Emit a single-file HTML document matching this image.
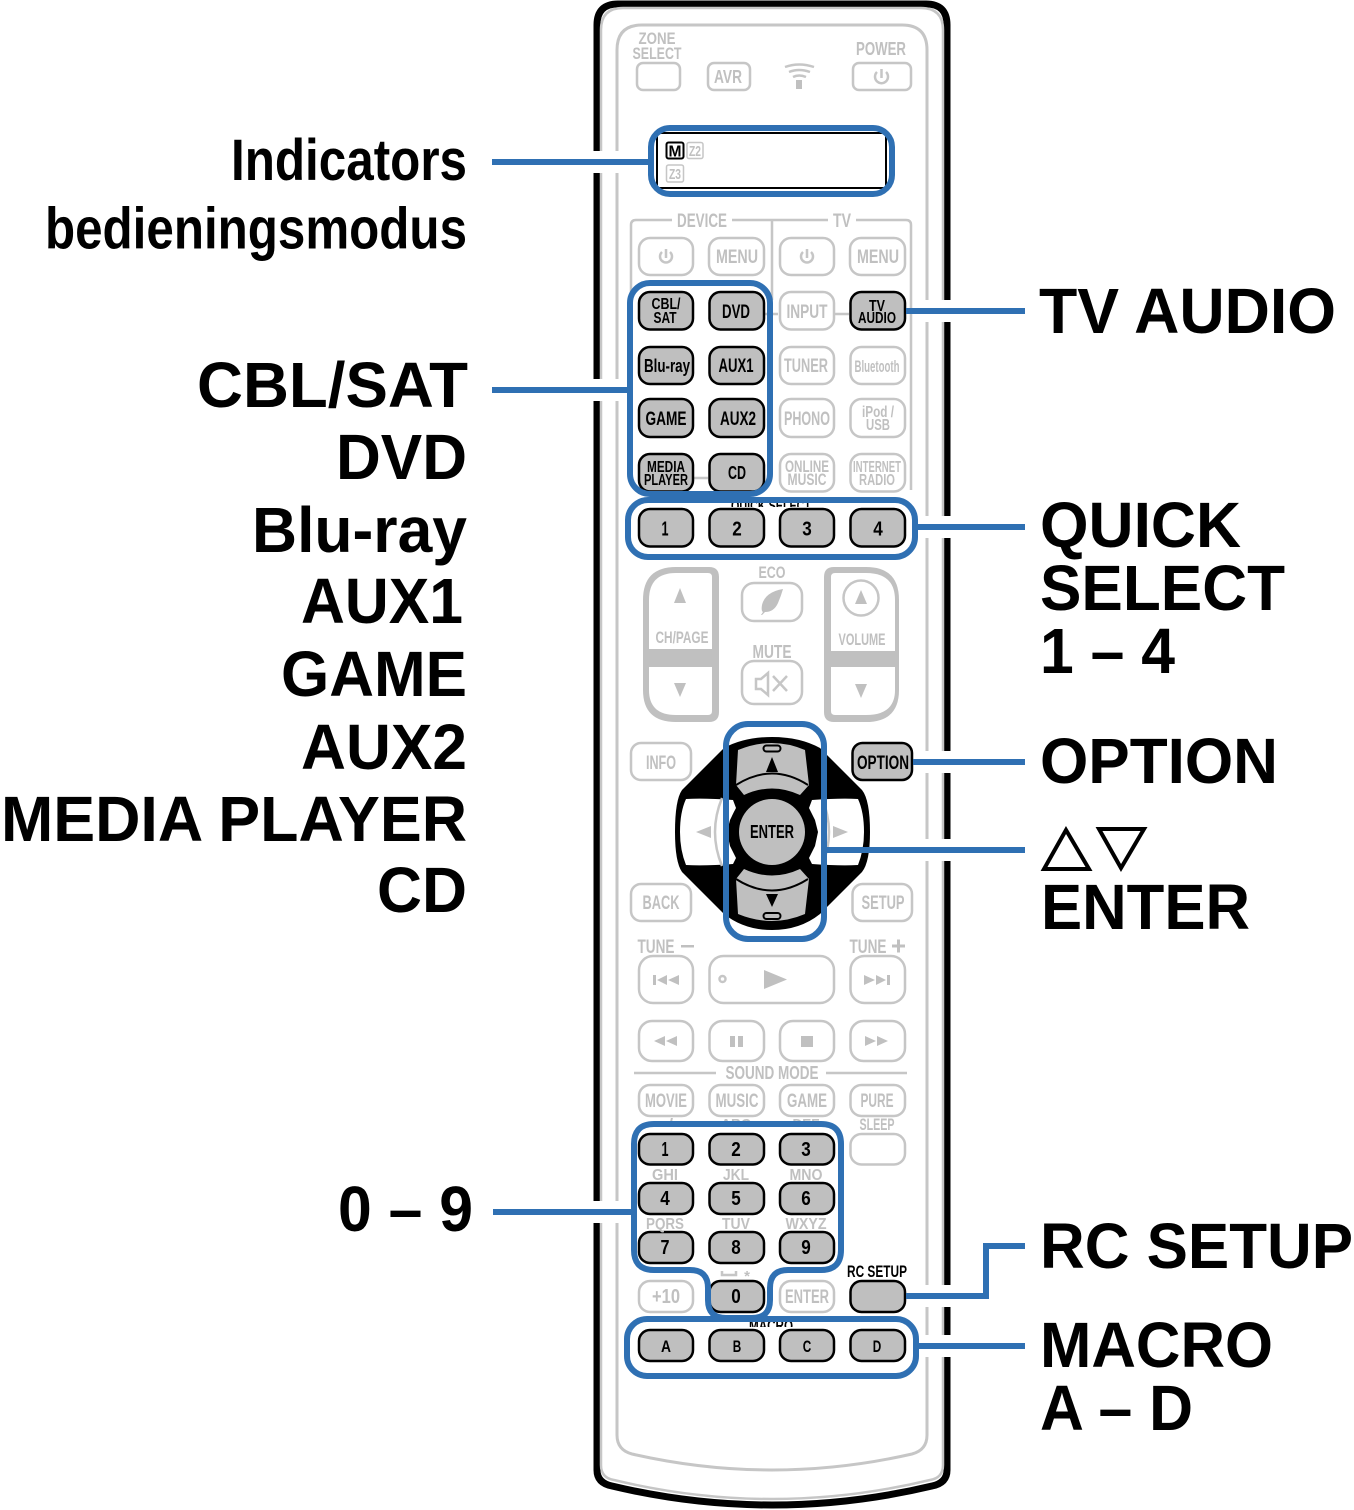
<!DOCTYPE html>
<html><head><meta charset="utf-8"><style>
html,body{margin:0;padding:0;background:#fff}
svg{display:block}
text{font-family:"Liberation Sans",sans-serif;font-weight:bold;text-anchor:middle}
.L{font-size:64px;fill:#000;text-anchor:start}
.M{font-size:58px;fill:#000;text-anchor:start}
.g{fill:#c0c0c0;font-size:19px}
.k{fill:#000;font-size:19px}
.w{fill:#fff;stroke:#c6c6c6;stroke-width:2.5}
.a{fill:#bfbfbf;stroke:#000;stroke-width:2.5}
.gl{fill:none;stroke:#c6c6c6;stroke-width:2.5}
.gf{fill:#c0c0c0}
.bl{fill:none;stroke:#2f70b3;stroke-width:6}
.ca{fill:none;stroke:#fff;stroke-width:22}
</style></head><body>
<svg xmlns="http://www.w3.org/2000/svg" width="1354" height="1510" viewBox="0 0 1354 1510">
<rect width="1354" height="1510" fill="#fff"/>
<!-- body -->
<path d="M597 25Q597 4 618 4H926Q947 4 947 25V1470Q947 1483 932 1486Q772 1524 612 1486Q597 1483 597 1470Z" fill="#fff" stroke="#000" stroke-width="7"/>
<path d="M601 30Q601 8 623 8H921Q943 8 943 30V1465Q943 1478 930 1480Q772 1518 614 1480Q601 1478 601 1465Z" class="gl"/>
<path d="M617 50Q617 25 642 25H902Q927 25 927 50V1435Q927 1450 912 1454Q772 1486 632 1454Q617 1450 617 1435Z" fill="none" stroke="#c6c6c6" stroke-width="3"/>
<!-- casing -->
<path class="ca" d="M590 162H624M590 390H624M590 1212H624M920 311H952M920 527H952M920 762H952M920 850H952M920 1296H952M920 1346H952"/>
<!-- top -->
<text class="g" x="657" y="44" textLength="37" lengthAdjust="spacingAndGlyphs" style="font-size:17px">ZONE</text>
<text class="g" x="657" y="59" textLength="49" lengthAdjust="spacingAndGlyphs" style="font-size:17px">SELECT</text>
<rect class="w" x="637" y="63" width="43" height="27" rx="6"/>
<rect class="w" x="708" y="63" width="42" height="27" rx="6"/>
<text class="g" x="728" y="83" textLength="28" lengthAdjust="spacingAndGlyphs" style="font-size:18px">AVR</text>
<path class="gl" d="M785 67Q799 62 814 67M789 72Q799 68 810 72M793 77Q799 74 806 77"/>
<rect class="gf" x="796" y="80" width="6" height="9"/>
<text class="g" x="881" y="55" textLength="50" lengthAdjust="spacingAndGlyphs" style="font-size:18px">POWER</text>
<rect class="w" x="853" y="63" width="58" height="27" rx="6"/>
<path class="gl" d="M877 72A6.500 6.500 0 1 0 886 72M881.500 69V78"/>
<!-- display -->
<rect x="657" y="133" width="229" height="55" fill="#fff" stroke="#000" stroke-width="2"/>
<rect x="666.500" y="142.500" width="17" height="16" rx="2" fill="#fff" stroke="#000" stroke-width="2"/>
<text class="k" x="675" y="156.500" textLength="13" lengthAdjust="spacingAndGlyphs" style="font-size:16px">M</text>
<rect x="687" y="142.500" width="16" height="16" rx="2" fill="#fff" stroke="#c6c6c6" stroke-width="1.500"/>
<text class="g" x="695" y="156" textLength="12" lengthAdjust="spacingAndGlyphs" style="font-size:15px">Z2</text>
<rect x="666.500" y="165" width="17" height="17" rx="2" fill="#fff" stroke="#c6c6c6" stroke-width="1.500"/>
<text class="g" x="675" y="179" textLength="12" lengthAdjust="spacingAndGlyphs" style="font-size:15px">Z3</text>
<!-- device frame -->
<path class="gl" d="M672 220H636Q631 220 631 225V300M732 220H772V300M772 220H828M856 220H906Q911 220 911 225V490M764 314H778M834 314H849M694 478H708"/>
<text class="g" x="702" y="227" textLength="50" lengthAdjust="spacingAndGlyphs">DEVICE</text>
<text class="g" x="842" y="227" textLength="18" lengthAdjust="spacingAndGlyphs">TV</text>
<rect class="w" x="639" y="238" width="54" height="37" rx="11"/>
<rect class="w" x="709" y="238" width="55" height="37" rx="11"/>
<rect class="w" x="780" y="238" width="54" height="37" rx="11"/>
<rect class="w" x="850" y="238" width="55" height="37" rx="11"/>
<path class="gl" d="M662 252A6 6 0 1 0 670 252M666 249V258"/>
<path class="gl" d="M803 252A6 6 0 1 0 811 252M807 249V258"/>
<text class="g" x="737" y="263" textLength="42" lengthAdjust="spacingAndGlyphs">MENU</text>
<text class="g" x="878" y="263" textLength="42" lengthAdjust="spacingAndGlyphs">MENU</text>
<!-- source buttons -->
<rect class="a" x="639" y="292" width="54" height="37.500" rx="11"/>
<rect class="a" x="709.500" y="292" width="54.500" height="37.500" rx="11"/>
<rect class="w" x="780" y="292" width="54" height="37.500" rx="11"/>
<rect class="a" x="850.500" y="292" width="54.500" height="37.500" rx="11"/>
<rect class="a" x="639" y="347" width="54" height="37" rx="11"/>
<rect class="a" x="709.500" y="347" width="54.500" height="37" rx="11"/>
<rect class="w" x="780" y="347" width="54" height="37" rx="11"/>
<rect class="w" x="850.500" y="347" width="54.500" height="37" rx="11"/>
<rect class="a" x="639" y="399" width="54" height="38" rx="11"/>
<rect class="a" x="709.500" y="399" width="54.500" height="38" rx="11"/>
<rect class="w" x="780" y="399" width="54" height="38" rx="11"/>
<rect class="w" x="850.500" y="399" width="54.500" height="38" rx="11"/>
<rect class="a" x="639" y="454" width="54" height="37.500" rx="11"/>
<rect class="a" x="709.500" y="454" width="54.500" height="37.500" rx="11"/>
<rect class="w" x="780" y="454" width="54" height="37.500" rx="11"/>
<rect class="w" x="850.500" y="454" width="54.500" height="37.500" rx="11"/>
<text class="k" x="666" y="309" textLength="29" lengthAdjust="spacingAndGlyphs" style="font-size:16px">CBL/</text>
<text class="k" x="665" y="323" textLength="23" lengthAdjust="spacingAndGlyphs" style="font-size:16px">SAT</text>
<text class="k" x="736" y="318" textLength="28" lengthAdjust="spacingAndGlyphs">DVD</text>
<text class="g" x="807" y="318" textLength="41" lengthAdjust="spacingAndGlyphs">INPUT</text>
<text class="k" x="877" y="311" textLength="16" lengthAdjust="spacingAndGlyphs" style="font-size:16px">TV</text>
<text class="k" x="877" y="323" textLength="38" lengthAdjust="spacingAndGlyphs" style="font-size:16px">AUDIO</text>
<text class="k" x="667" y="372" textLength="46" lengthAdjust="spacingAndGlyphs" style="font-size:18px">Blu-ray</text>
<text class="k" x="736" y="372" textLength="35" lengthAdjust="spacingAndGlyphs">AUX1</text>
<text class="g" x="806" y="372" textLength="44" lengthAdjust="spacingAndGlyphs">TUNER</text>
<text class="g" x="877" y="372" textLength="45" lengthAdjust="spacingAndGlyphs" style="font-size:17px">Bluetooth</text>
<text class="k" x="666" y="425" textLength="41" lengthAdjust="spacingAndGlyphs">GAME</text>
<text class="k" x="738" y="425" textLength="36" lengthAdjust="spacingAndGlyphs">AUX2</text>
<text class="g" x="807" y="425" textLength="46" lengthAdjust="spacingAndGlyphs">PHONO</text>
<text class="g" x="878" y="417" textLength="32" lengthAdjust="spacingAndGlyphs" style="font-size:16px">iPod /</text>
<text class="g" x="878" y="430" textLength="24" lengthAdjust="spacingAndGlyphs" style="font-size:16px">USB</text>
<text class="k" x="666" y="472" textLength="38" lengthAdjust="spacingAndGlyphs" style="font-size:16px">MEDIA</text>
<text class="k" x="666" y="485" textLength="44" lengthAdjust="spacingAndGlyphs" style="font-size:16px">PLAYER</text>
<text class="k" x="737" y="479" textLength="18" lengthAdjust="spacingAndGlyphs" style="font-size:18px">CD</text>
<text class="g" x="807" y="472" textLength="44" lengthAdjust="spacingAndGlyphs" style="font-size:17px">ONLINE</text>
<text class="g" x="807" y="485" textLength="39" lengthAdjust="spacingAndGlyphs" style="font-size:17px">MUSIC</text>
<text class="g" x="877" y="472" textLength="48" lengthAdjust="spacingAndGlyphs" style="font-size:16px">INTERNET</text>
<text class="g" x="877" y="485" textLength="36" lengthAdjust="spacingAndGlyphs" style="font-size:16px">RADIO</text>
<!-- quick select -->
<text class="k" x="771" y="511" textLength="80" lengthAdjust="spacingAndGlyphs" style="font-size:16px">QUICK SELECT</text>
<rect x="631" y="507" width="280" height="47" fill="#fff"/>
<rect class="a" x="639" y="509" width="54" height="37.500" rx="11"/>
<rect class="a" x="709.500" y="509" width="54.500" height="37.500" rx="11"/>
<rect class="a" x="780" y="509" width="54" height="37.500" rx="11"/>
<rect class="a" x="850.500" y="509" width="54.500" height="37.500" rx="11"/>
<text class="k" x="665" y="535.500" textLength="7" lengthAdjust="spacingAndGlyphs" style="font-size:20px">1</text>
<text class="k" x="737" y="535.500" textLength="9.500" lengthAdjust="spacingAndGlyphs" style="font-size:20px">2</text>
<text class="k" x="807" y="535.500" textLength="9.500" lengthAdjust="spacingAndGlyphs" style="font-size:20px">3</text>
<text class="k" x="878" y="535.500" textLength="9.500" lengthAdjust="spacingAndGlyphs" style="font-size:20px">4</text>
<!-- CH / VOL -->
<path class="gf" fill-rule="evenodd" d="M643 600Q643 567 676 567H709Q719 567 719 577V712Q719 722 709 722H676Q643 722 643 690ZM649 649H712V577Q712 573 708 573H676Q649 573 649 600ZM649 667V690Q649 715 676 715H708Q712 715 712 711V667Z"/>
<path class="gf" fill-rule="evenodd" d="M899 600Q899 567 866 567H834Q824 567 824 577V712Q824 722 834 722H866Q899 722 899 690ZM895 651H831V577Q831 573 835 573H866Q895 573 895 600ZM895 667V690Q895 715 866 715H835Q831 715 831 711V667Z"/>
<polygon class="gf" points="680,588 686,603 674,603"/>
<polygon class="gf" points="680,697 686,683 674,683"/>
<text class="g" x="682" y="643" textLength="53" lengthAdjust="spacingAndGlyphs" style="font-size:17px">CH/PAGE</text>
<circle class="gl" cx="861" cy="598" r="17.500"/>
<polygon class="gf" points="861,590 867,604 855,604"/>
<polygon class="gf" points="861,698 867,684 855,684"/>
<text class="g" x="862" y="645" textLength="47" lengthAdjust="spacingAndGlyphs" style="font-size:17px">VOLUME</text>
<text class="g" x="772" y="578" textLength="27" lengthAdjust="spacingAndGlyphs" style="font-size:17px">ECO</text>
<rect class="w" x="742" y="583" width="60" height="38" rx="12"/>
<path class="gf" d="M783 589Q765 592 762 605Q761 611 763 612L761 615 762 615 765 612Q774 612 778 603Q781 596 783 589Z"/>
<text class="g" x="772" y="658" textLength="39" lengthAdjust="spacingAndGlyphs" style="font-size:18px">MUTE</text>
<rect class="w" x="742" y="661" width="60" height="43" rx="12"/>
<path class="gl" d="M756 679V689H761L768 695V673L761 679ZM773 676L787 691M787 676L773 691"/>
<!-- side buttons -->
<rect class="w" x="631" y="743" width="60" height="37" rx="10"/>
<text class="g" x="661" y="769" textLength="30" lengthAdjust="spacingAndGlyphs">INFO</text>
<rect class="a" x="852.500" y="743" width="59.500" height="37" rx="10"/>
<text class="k" x="883" y="769" textLength="52" lengthAdjust="spacingAndGlyphs">OPTION</text>
<rect class="w" x="631" y="884" width="60" height="37" rx="10"/>
<text class="g" x="661" y="909" textLength="37" lengthAdjust="spacingAndGlyphs">BACK</text>
<rect class="w" x="852.500" y="884" width="59.500" height="37" rx="10"/>
<text class="g" x="883" y="909" textLength="43" lengthAdjust="spacingAndGlyphs">SETUP</text>
<!-- dpad -->
<path fill="#000" d="M772 737Q800 737 820 748L862 790Q870 800 870 832Q870 862 862 872L820 914Q800 930 772 930Q744 930 724 914L682 872Q675 862 675 832Q675 800 682 790L724 748Q744 737 772 737Z"/>
<path fill="#fff" d="M686 799Q705 798 733 800L736 808 730 820 727 832 730 846 736 858 733 864Q705 866 686 865Q680 850 680 832Q680 812 686 799Z"/>
<path fill="#fff" d="M858 799Q840 798 812 800L809 808 815 820 818 832 815 846 809 858 812 864Q840 866 858 865Q864 850 864 832Q864 812 858 799Z"/>
<path class="gl" d="M722 798Q708 832 722 866M822 798Q836 832 822 866" stroke-width="1.500"/>
<polygon class="gf" points="696,832 711,826 711,838"/>
<polygon class="gf" points="848,832 833,826 833,838"/>
<path fill="#bfbfbf" d="M738 750Q772 736 805 750L809 785 800 795Q772 782 744 795L736 785Z"/>
<path fill="#bfbfbf" d="M738 914Q772 928 805 914L809 879 800 869Q772 882 744 869L736 879Z"/>
<path d="M736 785Q772 762 808 785M736 879Q772 902 808 879" fill="none" stroke="#000" stroke-width="2"/>
<rect x="763.500" y="745.500" width="17" height="6" rx="3" fill="#bfbfbf" stroke="#000" stroke-width="2"/>
<rect x="763.500" y="913" width="17" height="6" rx="3" fill="#bfbfbf" stroke="#000" stroke-width="2"/>
<polygon fill="#000" points="772,757 778,772 766,772"/>
<polygon fill="#000" points="772,907 778,894 766,894"/>
<circle cx="772" cy="832" r="43" fill="#000"/>
<circle cx="772" cy="832" r="33" fill="#bfbfbf"/>
<text class="k" x="772" y="838" textLength="44" lengthAdjust="spacingAndGlyphs" style="font-size:18px">ENTER</text>
<!-- transport -->
<text class="g" x="656" y="953" textLength="37" lengthAdjust="spacingAndGlyphs">TUNE</text>
<rect class="gf" x="681" y="945" width="13" height="2.500"/>
<text class="g" x="868" y="953" textLength="37" lengthAdjust="spacingAndGlyphs">TUNE</text>
<path d="M892 946H905M898.500 939.500V952.500" stroke="#c0c0c0" stroke-width="3" fill="none"/>
<rect class="w" x="639" y="956" width="54" height="47" rx="14"/>
<rect class="w" x="709.500" y="956" width="124.500" height="47" rx="14"/>
<rect class="w" x="850.500" y="956" width="54.500" height="47" rx="14"/>
<path class="gf" d="M653 975H656V985H653ZM667 975V985L657 980ZM679 975V985L668 980Z"/>
<circle class="gl" cx="722.500" cy="979" r="3"/>
<polygon class="gf" points="764,970 787,979.500 764,989"/>
<path class="gf" d="M864 975L875 980 864 985ZM876 975L886 980 876 985ZM887 975H890V985H887Z"/>
<rect class="w" x="639" y="1021" width="54" height="40" rx="13"/>
<rect class="w" x="709.500" y="1021" width="54.500" height="40" rx="13"/>
<rect class="w" x="780" y="1021" width="54" height="40" rx="13"/>
<rect class="w" x="850.500" y="1021" width="54.500" height="40" rx="13"/>
<path class="gf" d="M654 1041L665 1036V1046ZM666 1041L677 1036V1046Z"/>
<path class="gf" d="M730 1036H735V1047H730ZM738 1036H743V1047H738Z"/>
<rect class="gf" x="801" y="1036" width="12" height="11"/>
<path class="gf" d="M865 1036L876 1041 865 1046ZM877 1036L888 1041 877 1046Z"/>
<path class="gl" d="M634 1073H716M826 1073H907"/>
<text class="g" x="772" y="1079" textLength="93" lengthAdjust="spacingAndGlyphs" style="font-size:18px">SOUND MODE</text>
<rect class="w" x="639" y="1085" width="54" height="31" rx="11"/>
<rect class="w" x="709.500" y="1085" width="54.500" height="31" rx="11"/>
<rect class="w" x="780" y="1085" width="54" height="31" rx="11"/>
<rect class="w" x="850.500" y="1085" width="54.500" height="31" rx="11"/>
<text class="g" x="666" y="1107" textLength="42" lengthAdjust="spacingAndGlyphs">MOVIE</text>
<text class="g" x="737" y="1107" textLength="43" lengthAdjust="spacingAndGlyphs">MUSIC</text>
<text class="g" x="807" y="1107" textLength="40" lengthAdjust="spacingAndGlyphs">GAME</text>
<text class="g" x="877" y="1107" textLength="33" lengthAdjust="spacingAndGlyphs">PURE</text>
<!-- numeric -->
<text class="g" x="666" y="1129" textLength="14" lengthAdjust="spacingAndGlyphs" style="font-size:15px">. /</text>
<text class="g" x="736" y="1129" textLength="30" lengthAdjust="spacingAndGlyphs" style="font-size:15px">ABC</text>
<text class="g" x="806" y="1129" textLength="27" lengthAdjust="spacingAndGlyphs" style="font-size:15px">DEF</text>
<rect x="637" y="1124" width="201" height="10" fill="#fff"/>
<text class="g" x="877" y="1130" textLength="35" lengthAdjust="spacingAndGlyphs" style="font-size:17px">SLEEP</text>
<rect class="w" x="850.500" y="1134" width="54.500" height="30.500" rx="11"/>
<rect class="a" x="639" y="1134" width="54" height="30.500" rx="11"/>
<rect class="a" x="709.500" y="1134" width="54.500" height="30.500" rx="11"/>
<rect class="a" x="780" y="1134" width="54" height="30.500" rx="11"/>
<rect class="a" x="639" y="1183" width="54" height="31" rx="11"/>
<rect class="a" x="709.500" y="1183" width="54.500" height="31" rx="11"/>
<rect class="a" x="780" y="1183" width="54" height="31" rx="11"/>
<rect class="a" x="639" y="1232" width="54" height="31" rx="11"/>
<rect class="a" x="709.500" y="1232" width="54.500" height="31" rx="11"/>
<rect class="a" x="780" y="1232" width="54" height="31" rx="11"/>
<rect class="a" x="709.500" y="1281" width="54.500" height="31" rx="11"/>
<text class="k" x="665" y="1156" textLength="7" lengthAdjust="spacingAndGlyphs" style="font-size:20px">1</text>
<text class="k" x="736" y="1156" textLength="9.500" lengthAdjust="spacingAndGlyphs" style="font-size:20px">2</text>
<text class="k" x="806" y="1156" textLength="9.500" lengthAdjust="spacingAndGlyphs" style="font-size:20px">3</text>
<text class="k" x="665" y="1205" textLength="9.500" lengthAdjust="spacingAndGlyphs" style="font-size:20px">4</text>
<text class="k" x="736" y="1205" textLength="9.500" lengthAdjust="spacingAndGlyphs" style="font-size:20px">5</text>
<text class="k" x="806" y="1205" textLength="9.500" lengthAdjust="spacingAndGlyphs" style="font-size:20px">6</text>
<text class="k" x="665" y="1254" textLength="9" lengthAdjust="spacingAndGlyphs" style="font-size:20px">7</text>
<text class="k" x="736" y="1254" textLength="9.500" lengthAdjust="spacingAndGlyphs" style="font-size:20px">8</text>
<text class="k" x="806" y="1254" textLength="9.500" lengthAdjust="spacingAndGlyphs" style="font-size:20px">9</text>
<text class="k" x="736" y="1303" textLength="9.500" lengthAdjust="spacingAndGlyphs" style="font-size:20px">0</text>
<text class="g" x="665" y="1180" textLength="26" lengthAdjust="spacingAndGlyphs" style="font-size:16px">GHI</text>
<text class="g" x="736" y="1180" textLength="26" lengthAdjust="spacingAndGlyphs" style="font-size:16px">JKL</text>
<text class="g" x="806" y="1180" textLength="33" lengthAdjust="spacingAndGlyphs" style="font-size:16px">MNO</text>
<text class="g" x="665" y="1229" textLength="38" lengthAdjust="spacingAndGlyphs" style="font-size:16px">PQRS</text>
<text class="g" x="736" y="1229" textLength="28" lengthAdjust="spacingAndGlyphs" style="font-size:16px">TUV</text>
<text class="g" x="806" y="1229" textLength="41" lengthAdjust="spacingAndGlyphs" style="font-size:16px">WXYZ</text>
<path class="gl" d="M722 1271V1275H736V1271" stroke-width="1.500"/>
<text class="g" x="747" y="1281" style="font-size:15px">*</text>
<rect class="w" x="639" y="1281" width="54" height="31" rx="11"/>
<text class="g" x="666" y="1303" textLength="28" lengthAdjust="spacingAndGlyphs" style="font-size:20px">+10</text>
<rect class="w" x="780" y="1281" width="54" height="31" rx="11"/>
<text class="g" x="807" y="1303" textLength="44" lengthAdjust="spacingAndGlyphs">ENTER</text>
<text class="k" x="877" y="1277" textLength="60" lengthAdjust="spacingAndGlyphs" style="font-size:17px">RC SETUP</text>
<rect class="a" x="850.500" y="1281" width="54.500" height="31" rx="11"/>
<!-- macro -->
<text class="k" x="771" y="1331" textLength="44" lengthAdjust="spacingAndGlyphs" style="font-size:16px">MACRO</text>
<rect x="631" y="1327" width="281" height="46" fill="#fff"/>
<rect class="a" x="639" y="1330" width="54" height="31" rx="11"/>
<rect class="a" x="709.500" y="1330" width="54.500" height="31" rx="11"/>
<rect class="a" x="780" y="1330" width="54" height="31" rx="11"/>
<rect class="a" x="850.500" y="1330" width="54.500" height="31" rx="11"/>
<text class="k" x="666" y="1352" textLength="10" lengthAdjust="spacingAndGlyphs" style="font-size:17px">A</text>
<text class="k" x="737" y="1352" textLength="8.500" lengthAdjust="spacingAndGlyphs" style="font-size:17px">B</text>
<text class="k" x="807" y="1352" textLength="8.500" lengthAdjust="spacingAndGlyphs" style="font-size:17px">C</text>
<text class="k" x="877" y="1352" textLength="8.500" lengthAdjust="spacingAndGlyphs" style="font-size:17px">D</text>
<!-- blue highlights -->
<rect class="bl" x="651" y="128" width="241" height="66" rx="19"/>
<rect class="bl" x="630" y="283" width="140" height="211" rx="20"/>
<rect class="bl" x="628" y="500" width="287" height="57" rx="20"/>
<rect class="bl" x="726" y="724" width="98" height="215" rx="22"/>
<path class="bl" d="M654 1124H821Q841 1124 841 1144V1250Q841 1270 821 1270H788Q770 1270 770 1288V1300Q770 1318 752 1318H726Q708 1318 708 1300V1288Q708 1270 690 1270H654Q634 1270 634 1250V1144Q634 1124 654 1124Z"/>
<rect class="bl" x="627" y="1319" width="289" height="57" rx="20"/>
<path class="bl" d="M492 162H650M492 390H630M493 1212H634M906 311H1025M916 527H1025M913 762H1025M825 850H1025M906 1296H986V1246H1025M917 1346H1025"/>
<!-- left labels -->
<text class="M" x="231" y="180" textLength="236" lengthAdjust="spacingAndGlyphs">Indicators</text>
<text class="M" x="45" y="248.500" textLength="422" lengthAdjust="spacingAndGlyphs">bedieningsmodus</text>
<text class="L" x="197" y="407" textLength="271" lengthAdjust="spacingAndGlyphs">CBL/SAT</text>
<text class="L" x="336" y="479" textLength="131" lengthAdjust="spacingAndGlyphs">DVD</text>
<text class="L" x="252" y="552" textLength="215" lengthAdjust="spacingAndGlyphs">Blu-ray</text>
<text class="L" x="301" y="623" textLength="162" lengthAdjust="spacingAndGlyphs">AUX1</text>
<text class="L" x="281" y="696" textLength="186" lengthAdjust="spacingAndGlyphs">GAME</text>
<text class="L" x="301" y="769" textLength="166" lengthAdjust="spacingAndGlyphs">AUX2</text>
<text class="L" x="1" y="841" textLength="466" lengthAdjust="spacingAndGlyphs">MEDIA PLAYER</text>
<text class="L" x="377" y="912" textLength="90" lengthAdjust="spacingAndGlyphs">CD</text>
<text class="L" x="338" y="1231" textLength="135" lengthAdjust="spacingAndGlyphs">0 – 9</text>
<!-- right labels -->
<text class="L" x="1039" y="333" textLength="297" lengthAdjust="spacingAndGlyphs">TV AUDIO</text>
<text class="L" x="1040" y="547" textLength="201" lengthAdjust="spacingAndGlyphs">QUICK</text>
<text class="L" x="1040" y="610" textLength="245" lengthAdjust="spacingAndGlyphs">SELECT</text>
<text class="L" x="1040" y="673" textLength="135" lengthAdjust="spacingAndGlyphs">1 – 4</text>
<text class="L" x="1040" y="783" textLength="238" lengthAdjust="spacingAndGlyphs">OPTION</text>
<polygon points="1044,869 1089,869 1066,830" fill="none" stroke="#000" stroke-width="4"/>
<polygon points="1099,829 1144,829 1121,868" fill="none" stroke="#000" stroke-width="4"/>
<text class="L" x="1041" y="929" textLength="209" lengthAdjust="spacingAndGlyphs">ENTER</text>
<text class="L" x="1040" y="1268" textLength="313" lengthAdjust="spacingAndGlyphs">RC SETUP</text>
<text class="L" x="1040" y="1367" textLength="233" lengthAdjust="spacingAndGlyphs">MACRO</text>
<text class="L" x="1040" y="1430" textLength="153" lengthAdjust="spacingAndGlyphs">A – D</text>
</svg>
</body></html>
